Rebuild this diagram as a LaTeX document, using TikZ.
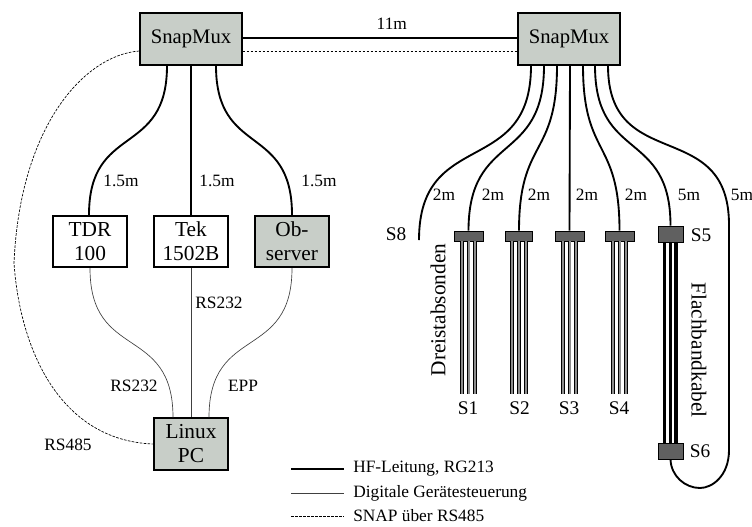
\documentclass[tikz,border=0pt]{standalone}
\usepackage{fontspec}
\setmainfont{Liberation Serif}
\usetikzlibrary{positioning,calc}
\definecolor{muxgray}{HTML}{C8CEC8}
\definecolor{plugdark}{HTML}{606060}
\tikzset{
  devbox/.style={draw,line width=1.5pt,align=center,inner sep=0pt,font=\fontsize{16}{18}\selectfont},
  muxbox/.style={devbox,fill=muxgray,minimum width=76pt,minimum height=38.5pt,font=\fontsize{15.5}{18}\selectfont},
  smallbox/.style={devbox,minimum width=56pt,minimum height=38.5pt},
  plugbox/.style={draw,line width=.5pt,fill=plugdark,minimum width=21.5pt,minimum height=7.5pt,inner sep=0pt},
  bigplug/.style={plugbox,minimum width=18.5pt,minimum height=12pt},
  hfline/.style={line width=1.4pt},
  digline/.style={line width=.5pt,black!75},
  snapline/.style={line width=.5pt,dashed,dash pattern=on 2pt off 1pt},
  rodline/.style={line width=2.8pt,black,postaction={draw=black!45,line width=1.5pt}},
  flatline/.style={line width=2.8pt,black},
  lbl/.style={inner sep=0pt,font=\fontsize{13}{15}\selectfont},
  slbl/.style={inner sep=0pt,font=\fontsize{14.5}{16}\selectfont},
  rotlbl/.style={inner sep=0pt,font=\fontsize{16}{18}\selectfont},
  leg/.style={inner sep=0pt,anchor=west,font=\fontsize{13}{15}\selectfont},
  scurve/.style={out=-90,in=90,looseness=1.4}
}
\begin{document}
\begin{tikzpicture}[x=0.75pt,y=-0.75pt]
  \useasboundingbox (0,0) rectangle (752,526);
  % boxes
  \node[muxbox] (muxa) at (191,39) {SnapMux};
  \node[muxbox] (muxb) at (569,39) {SnapMux};
  \node[smallbox] (tdr) at (90,241.5) {TDR\\100};
  \node[smallbox] (tek) at (191,241.5) {Tek\\1502B};
  \node[smallbox,fill=muxgray] (obs) at (292,241.5) {Ob-\\server};
  \node[smallbox,fill=muxgray] (pc) at (191,444) {Linux\\PC};
  % plugs
  \node[plugbox] (pa) at (468.5,236) {};
  \node[plugbox,minimum width=20pt] (pb) at (519,236) {};
  \node[plugbox] (pc3) at (569.5,236) {};
  \node[plugbox] (pd) at (619.5,236) {};
  \node[bigplug] (pe) at (670.5,234) {};
  \node[bigplug] (pf) at (670.5,451) {};
  \coordinate (send) at (419,240);
  % hf cables
  \draw[hfline] (muxa.east|-0,38) -- node[pos=.543,above=6pt,lbl] (len) {11m} (muxb.west|-0,38);
  \draw[hfline] ([xshift=-18pt]muxa.south) to[scurve] ([xshift=-.75pt]tdr.north);
  \draw[hfline] (muxa.south) -- (tek.north);
  \draw[hfline] ([xshift=18.75pt]muxa.south) to[scurve] (obs.north);
  \draw[hfline] ([xshift=-28.5pt]muxb.south) to[scurve] (send);
  \draw[hfline] ([xshift=-18.75pt]muxb.south) to[scurve] (pa.north);
  \draw[hfline] ([xshift=-9pt]muxb.south) to[scurve] (pb.north);
  \draw[hfline] ([xshift=.75pt]muxb.south) -- (pc3.north);
  \draw[hfline] ([xshift=10.5pt]muxb.south) to[scurve] (pd.north);
  \draw[hfline] ([xshift=19.5pt]muxb.south) to[scurve] (pe.north);
  \draw[hfline] ([xshift=29.25pt]muxb.south) to[scurve] (729,225) -- (729,450)
     .. controls (729,476) and (712,488) .. (700,488) .. controls (685,488) and (671,476) .. (pf.south);
  % digital lines
  \draw[digline] (tdr.south) to[scurve] ([xshift=-13.5pt]pc.north);
  \draw[digline] (tek.south) -- (pc.north);
  \draw[digline] (obs.south) to[scurve] ([xshift=13.5pt]pc.north);
  % snap
  \draw[snapline] (muxa.east|-0,51) -- (muxb.west|-0,51);
  \draw[snapline] (muxa.west|-0,51) .. controls (85,55) and (20,125) .. (14,263)
     .. controls (20,350) and (60,440) .. (pc.west|-0,444);
  % rods
  \foreach \p in {pa,pb,pc3,pd}
    \foreach \s in {-5,0,5}
      \draw[rodline] ([xshift=\s pt]\p.south) -- ++(0,153);
  \foreach \s in {-4.5,4.25}
    \draw[flatline] ([xshift=\s pt]pe.south) -- ([xshift=\s pt]pf.north);
  \draw[line width=1.6pt] (pe.south) -- (pf.north);
  % labels
  \node[lbl] (la) at (121,181) {1.5m};
  \node[lbl] (lb) at (217,181) {1.5m};
  \node[lbl] (lc) at (319,181) {1.5m};
  \foreach \x in {444,493,539,587,636}
    \node[lbl] at (\x,195) {2m};
  \node[lbl] at (689,195) {5m};
  \node[lbl] at (742,195) {5m};
  \node[slbl] at (396,234) {S8};
  \node[slbl] at (701,235) {S5};
  \node[slbl] at (700,451) {S6};
  \node[slbl] at (468,408) {S1};
  \node[slbl] at (519.5,408) {S2};
  \node[slbl] at (569,408) {S3};
  \node[slbl] at (619,408) {S4};
  \node[rotlbl,rotate=90] at (438,310) {Dreistabsonden};
  \node[rotlbl,rotate=-90] at (699,350) {Flachbandkabel};
  \node[lbl] at (219,303) {RS232};
  \node[lbl] at (134,386) {RS232};
  \node[lbl] at (243,386) {EPP};
  \node[lbl] at (68,445) {RS485};
  % legend
  \node[leg] (ta) at (353,469) {HF-Leitung, RG213};
  \node[leg] (tb) at (353,493) {Digitale Gerätesteuerung};
  \node[leg] (tc) at (353,516) {SNAP über RS485};
  \coordinate (ca) at (291,469);
  \coordinate (cb) at (291,493);
  \coordinate (cc) at (291,516);
  \draw[hfline] (ca) -- ([xshift=-7pt]ta.west);
  \draw[digline] (cb) -- ([xshift=-7pt]tb.west);
  \draw[snapline] (cc) -- ([xshift=-7pt]tc.west);
\end{tikzpicture}
\end{document}
